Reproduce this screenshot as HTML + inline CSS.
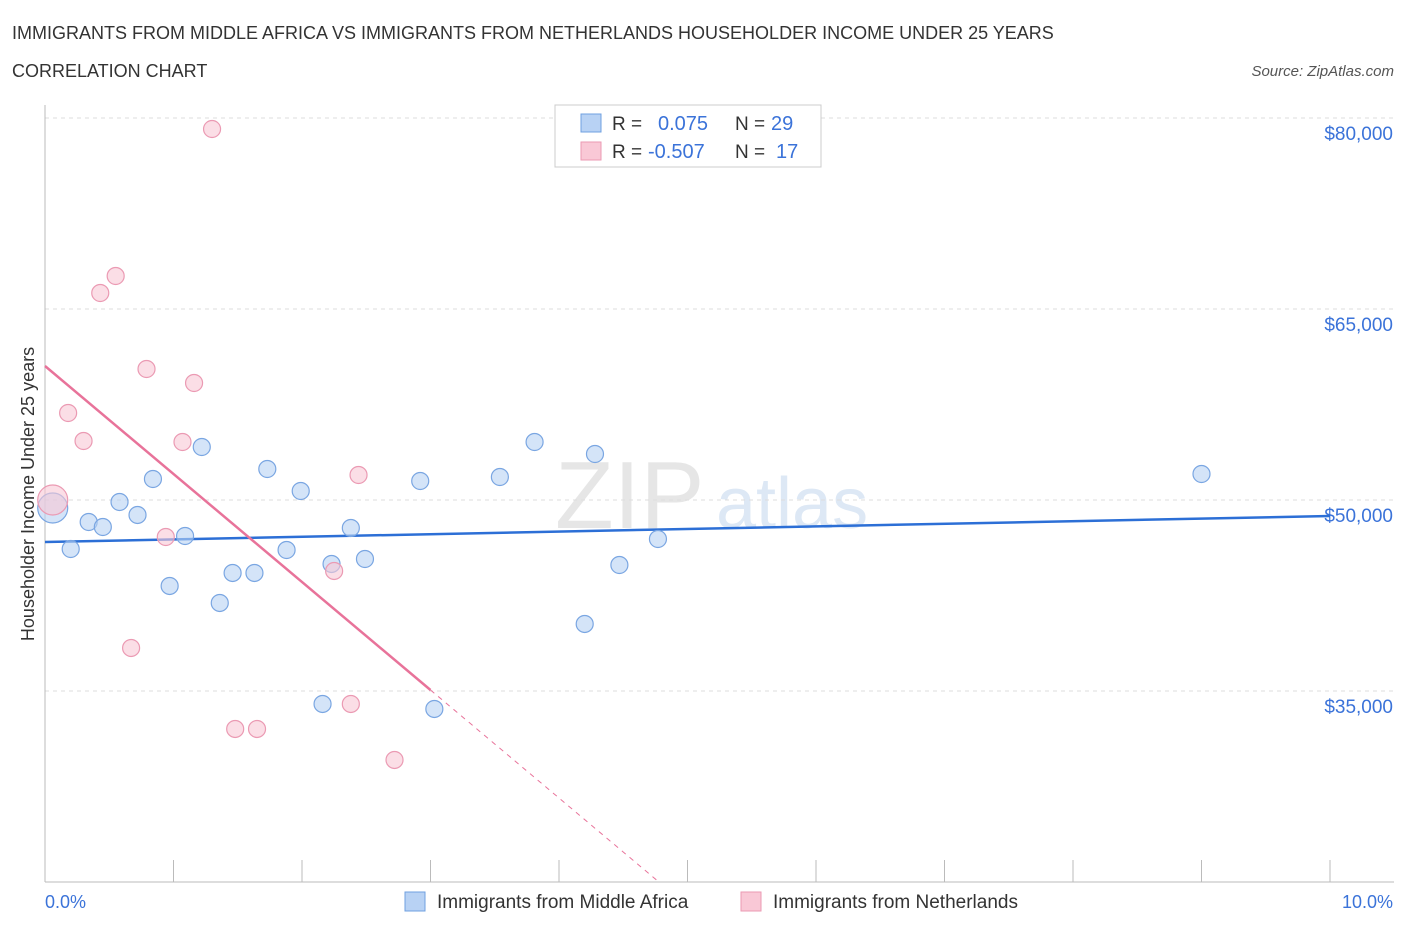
<!DOCTYPE html>
<html><head><meta charset="utf-8"><style>
body{margin:0;background:#fff;font-family:"Liberation Sans",sans-serif;}
svg text{font-family:"Liberation Sans",sans-serif;}
</style></head><body>
<svg id="chart" width="1406" height="930" xmlns="http://www.w3.org/2000/svg">
<text x="12" y="39" font-size="18" fill="#333">IMMIGRANTS FROM MIDDLE AFRICA VS IMMIGRANTS FROM NETHERLANDS HOUSEHOLDER INCOME UNDER 25 YEARS</text>
<text x="12" y="77" font-size="18" fill="#333">CORRELATION CHART</text>
<text x="1394" y="76" font-size="15" fill="#555" font-style="italic" text-anchor="end">Source: ZipAtlas.com</text>
<text x="555" y="528" font-size="96" fill="#e6e6e6" font-family="Liberation Serif">ZIP</text>
<text x="716" y="528" font-size="72" fill="#dde8f5">atlas</text>
<g id="grid"></g><g id="axes"></g><g id="lines"></g><g id="points"></g>
<text transform="translate(34,494) rotate(-90)" font-size="18" fill="#333" text-anchor="middle">Householder Income Under 25 years</text>
<text x="45" y="908" font-size="18" fill="#3b73d9">0.0%</text>
<text x="1393" y="908" font-size="18" fill="#3b73d9" text-anchor="end">10.0%</text>
<g>
<rect x="555" y="105" width="266" height="62" fill="#fff" stroke="#ccc"/>
<rect x="581" y="114" width="20" height="18" fill="#b8d2f4" stroke="#6fa0e0"/>
<rect x="581" y="142" width="20" height="18" fill="#f9c8d6" stroke="#eb9ab3"/>
<text x="612" y="130" font-size="19" fill="#333">R = </text><text x="658" y="130" font-size="20" fill="#3b73d9">0.075</text>
<text x="735" y="130" font-size="19" fill="#333">N = </text><text x="771" y="130" font-size="20" fill="#3b73d9">29</text>
<text x="612" y="158" font-size="19" fill="#333">R = </text><text x="648" y="158" font-size="20" fill="#3b73d9">-0.507</text>
<text x="735" y="158" font-size="19" fill="#333">N = </text><text x="776" y="158" font-size="20" fill="#3b73d9">17</text>
</g>
<g>
<rect x="405" y="892" width="20" height="19" fill="#b8d2f4" stroke="#6fa0e0"/>
<text x="437" y="908" font-size="19" fill="#333">Immigrants from Middle Africa</text>
<rect x="741" y="892" width="20" height="19" fill="#f9c8d6" stroke="#eb9ab3"/>
<text x="773" y="908" font-size="19" fill="#333">Immigrants from Netherlands</text>
</g>
</svg>
<script>
const yTicks=[80000,65000,50000,35000];
const yTickLabels=["$80,000","$65,000","$50,000","$35,000"];
const xTicks=[0,1,2,3,4,5,6,7,8,9,10];
const blueX=[0.06,0.2,0.34,0.45,0.58,0.72,0.84,0.97,1.09,1.22,1.36,1.46,1.63,1.73,1.88,1.99,2.16,2.23,2.38,2.49,2.92,3.03,3.54,3.81,4.2,4.28,4.47,4.77,9.0];
const blueY=[49372,46153,48274,47881,49844,48824,51651,43248,47174,54164,41913,44269,44269,52436,46075,50708,33981,44976,47803,45368,51494,33589,51808,54556,40264,53614,44897,46939,52043];
const pinkX=[0.06,0.18,0.30,0.43,0.55,0.67,0.79,0.94,1.07,1.16,1.3,1.48,1.65,2.25,2.38,2.44,2.72];
const pinkY=[50002,56834,54635,66257,67592,38379,60289,47096,54556,59190,79136,32018,32018,44426,33981,51965,29584];
const blueTrend=[46702,48743];
const pinkTrend=[60524,-8482];
const NS="http://www.w3.org/2000/svg";
const sx=v=>45+v*128.5, sy=v=>118+(80000-v)/15000*191;
function mk(t,a,p){const e=document.createElementNS(NS,t);for(const k in a)e.setAttribute(k,a[k]);document.getElementById(p).appendChild(e);return e;}
yTicks.forEach((t,i)=>{
 const l=mk('line',{x1:45,x2:1394,y1:sy(t),y2:sy(t),stroke:'#ddd','stroke-dasharray':'4,4'},'grid');
 
 
 const tx=mk('text',{x:1393,y:sy(t)+22,'font-size':19,fill:'#3b73d9','text-anchor':'end'},'grid');
 tx.textContent=yTickLabels[i];
 
 
});
const ya=mk('line',{x1:45,x2:45,y1:105,y2:882,stroke:'#bbb'},'axes');


const xa=mk('line',{x1:45,x2:1394,y1:882,y2:882,stroke:'#bbb'},'axes');


xTicks.forEach(t=>{
 const l=mk('line',{x1:sx(t),x2:sx(t),y1:860,y2:882,stroke:'#bbb'},'axes');
 
 
});
const bl=mk('line',{x1:sx(0),x2:sx(10),y1:sy(blueTrend[0]),y2:sy(blueTrend[1]),stroke:'#2c6fd6','stroke-width':2.5},'lines');


const pf=x=>pinkTrend[0]+pinkTrend[1]*x;
const pl=mk('line',{x1:sx(0),x2:sx(3),y1:sy(pf(0)),y2:sy(pf(3)),stroke:'#e8739a','stroke-width':2.5},'lines');


const xe=(pinkTrend[0]-20000)/-pinkTrend[1];
const pd=mk('line',{x1:sx(3),x2:sx(xe),y1:sy(pf(3)),y2:sy(20000),stroke:'#e8739a','stroke-width':1,'stroke-dasharray':'5,5'},'lines');


blueX.forEach((x,i)=>{
 const c=mk('circle',{cx:sx(x),cy:sy(blueY[i]),r:i==0?15:8.5,fill:'rgba(184,210,244,0.6)',stroke:'#7aa6e2','stroke-width':1.2},'points');
 
 
});
pinkX.forEach((x,i)=>{
 const c=mk('circle',{cx:sx(x),cy:sy(pinkY[i]),r:i==0?15:8.5,fill:'rgba(249,200,214,0.6)',stroke:'#eb9ab3','stroke-width':1.2},'points');
 
 
});
</script>
</body></html>
